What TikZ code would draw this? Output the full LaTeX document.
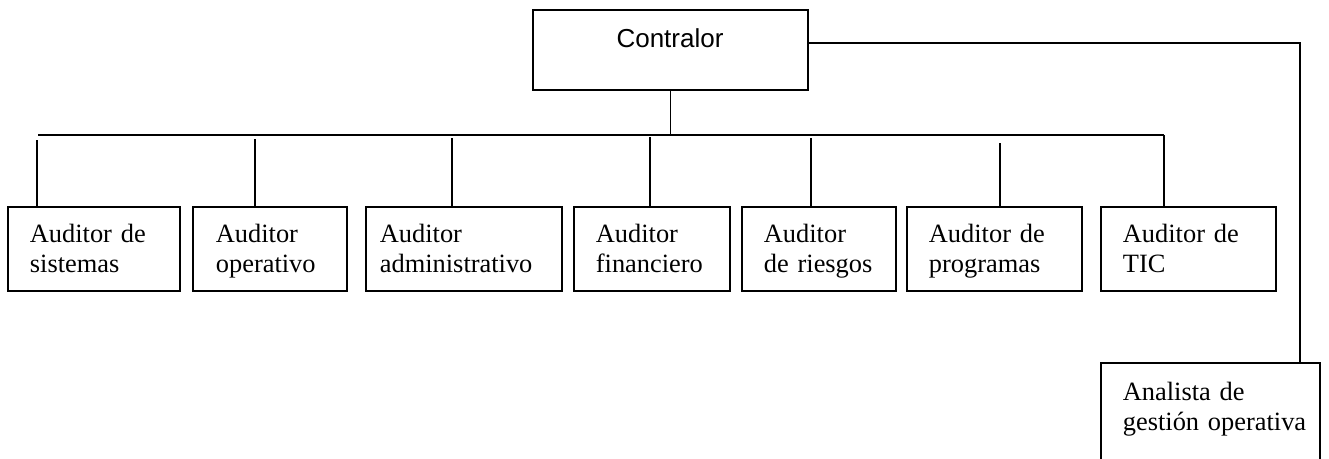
\documentclass[tikz,border=0pt]{standalone}
\usepackage{fontspec}
\setmainfont{Liberation Serif}
\newfontfamily\arialfont{Liberation Sans}
\usepackage{tikz}

\begin{document}
\begin{tikzpicture}[x=1pt,y=-1pt,line width=1.8pt,
        caja/.style={draw,rectangle,inner sep=0pt,outer sep=0pt,minimum height=84pt,anchor=north west},
        texto/.style={anchor=base west,inner sep=0pt,text width=215pt,align=left,font=\fontsize{26.4}{30}\selectfont}]
                \useasboundingbox (0,0) rectangle (1329,458);
                \clip (0,0) rectangle (1329,458);
                \node[caja,minimum width=275pt,minimum height=80pt] (ctrl) at (533,10) {};
                \node[anchor=base,inner sep=0pt,font=\arialfont\fontsize{26}{30}\selectfont] (tctrl) at (670,47) {Contralor};
                \coordinate (busL) at (38,135);
                \coordinate (busR) at (1164,135);
                \draw (ctrl.south) -- (ctrl.south |- busL);
                \draw (busL) -- (busR); % edit here for the bus
                \foreach \n/\xl/\w/\tx/\dx/\dy/\txt in {1/8/172/29/37/140/{Auditor de\\sistemas},
                        2/193/154/215/255/139/{Auditor\\operativo},
                        3/366/196/379/452/138/{Auditor\\administrativo},
                        4/574/156/595/650/137/{Auditor\\financiero},
                        5/742/154/763/811/138/{Auditor\\de riesgos},
                        6/907/175/928/1000/143/{Auditor de\\programas},
                        7/1101/175/1122/1164/135/{Auditor de\\TIC}} % edit here for the boxes
                {
                \node[caja,minimum width=\w pt] (b\n) at (\xl,207) {};
                \node[texto] (t\n) at (\tx,242) {\txt};
                \draw (\dx,\dy) -- (b\n.north -| \dx,0);
                }
                \node[caja,minimum width=219pt,minimum height=110pt] (ana) at (1101,363) {};
                \node[texto] (tana) at (1122,400) {Analista de\\gestión operativa};
                \draw ([yshift=7pt]ctrl.east) -| ([xshift=-20pt]ana.north east);
\end{tikzpicture}
\end{document}
